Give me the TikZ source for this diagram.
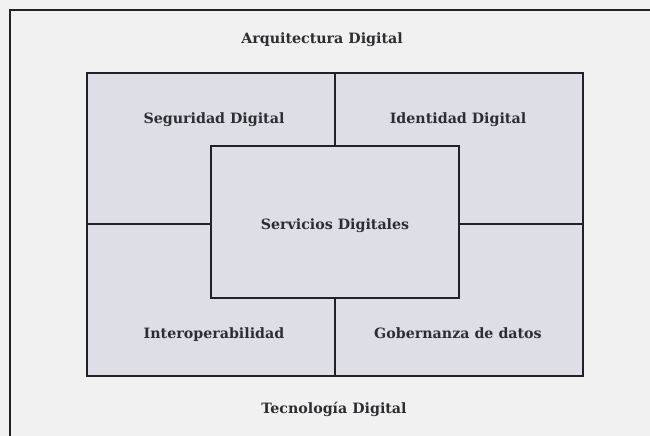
\documentclass[tikz,border=0pt]{standalone}
\usepackage{fontspec}
\setmainfont{DejaVu Serif}
\definecolor{paper}{RGB}{241,241,242}
\definecolor{boxfill}{RGB}{222,222,230}
\definecolor{linegray}{RGB}{34,34,38}
\definecolor{inkgray}{RGB}{45,45,50}
\begin{document}
\begin{tikzpicture}[
        x=0.02cm, y=-0.02cm,
        frame/.style={draw=linegray, line width=1.2pt},
        quad/.style={draw=linegray, line width=1.1pt, fill=boxfill, minimum width=4.96cm, minimum height=3.03cm, inner sep=0pt},
        core/.style={quad, minimum height=3.04cm},
        lbl/.style={text=inkgray, font=\bfseries\fontsize{8.1}{9}\selectfont, inner sep=1pt, text height=6.2pt, text depth=1.8pt},
    ]
    \useasboundingbox (0,0) rectangle (650,436);
    \fill[paper] (0,0) rectangle (650,436);
    % outer frame, cut off at right and bottom
    \draw[frame] (10,440) -- (10,10) -- (654,10);
    \node[lbl](arq) at (322,39.5) {Arquitectura Digital};
    % four quadrants
    \node[quad](seg) at (211,148.5) {};
    \node[quad](ide) at (459,148.5) {};
    \node[quad](int) at (211,300) {};
    \node[quad](gob) at (459,300) {};
    % centre box on top
    \node[core](serv) at (335,222) {};
    \node[lbl](segt) at (214,119.5) {Seguridad Digital};
    \node[lbl](idet) at (458,119.5) {Identidad Digital};
    \node[lbl](servt) at (335,225.5) {Servicios Digitales};
    \node[lbl](intt) at (214,334.5) {Interoperabilidad};
    \node[lbl](gobt) at (458,334.5) {Gobernanza de datos};
    \node[lbl](tec) at (334,409.5) {Tecnología Digital};
    \end{tikzpicture}
\end{document}
